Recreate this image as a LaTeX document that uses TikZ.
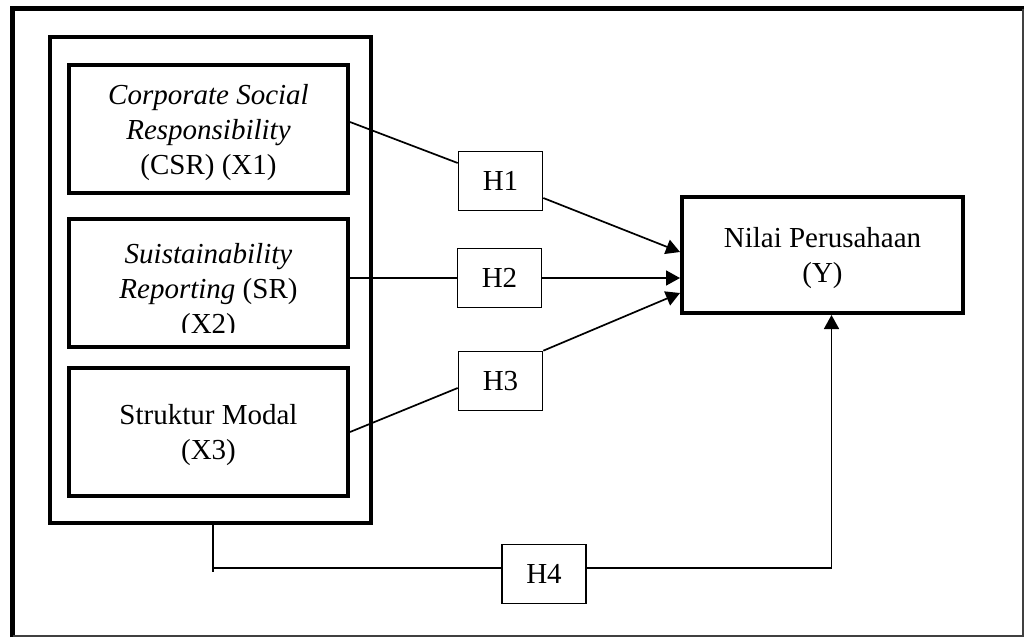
\documentclass[tikz,border=0pt]{standalone}
\usepackage{fontspec}
\setmainfont{Liberation Serif}
\usetikzlibrary{arrows.meta}
\tikzset{
  varbox/.style={draw,line width=4pt,inner sep=0pt,align=center,text depth=-4pt,
    minimum width=279pt,minimum height=128pt},
  hypbox/.style={draw,line width=1.6pt,inner sep=0pt,
    minimum width=84pt,minimum height=59pt},
  link/.style={line width=1.7pt},
  arr/.style={link,-{Triangle[length=14pt,width=15pt]}}
}
\begin{document}
\begin{tikzpicture}[x=1pt,y=-1pt,font=\fontsize{29}{35}\selectfont]
   \useasboundingbox (0,0) rectangle (1024,637);
   % frame of the page
   \draw[line width=5pt] (12.5,637) -- (12.5,8.5) -- (1024,8.5);
   \draw[line width=2pt,black!75] (1022.5,8.5) -- (1022.5,636) -- (12.5,636);
   % independent variables
   \node[draw,line width=4pt,minimum width=321pt,minimum height=486pt] (grp) at (210.5,280) {};
   \node[varbox] (csr) at (208.5,129)
     {\textit{Corporate Social}\\\textit{Responsibility}\\(CSR) (X1)};
   \node[varbox] (sr) at (208.5,283) {};
   \begin{scope}
     \clip (69,225) rectangle (348,332);
     \node[align=center] (srtext) at (208.5,292)
       {\textit{Suistainability}\\\textit{Reporting} (SR)\\(X2)};
   \end{scope}
   \node[varbox] (sm) at (208.5,432) {Struktur Modal\\(X3)};
   % dependent variable
   \node[varbox,minimum width=281pt,minimum height=116pt] (nilai) at (822.5,255)
     {Nilai Perusahaan\\(Y)};
   % hypotheses
   \foreach \n/\x/\y in {1/500.5/181, 2/499.5/278, 3/500.5/381, 4/544/574}
     \node[hypbox] (h\n) at (\x,\y) {H\n};
   \draw[link] ([yshift=7pt]csr.east) -- ([yshift=18pt]h1.west);
   \draw[arr] ([yshift=-17pt]h1.east) -- ([yshift=3pt]nilai.west);
   \draw[link] ([yshift=5pt]sr.east) -- (h2.west);
   \draw[arr] (h2.east) -- ([yshift=-23pt]nilai.west);
   \draw[link] (sm.east) -- ([yshift=-7pt]h3.west);
   \draw[arr] (h3.north east) -- ([yshift=-38pt]nilai.west);
   \draw[link] ([xshift=2.5pt]grp.south) -- ++(0,47) ([xshift=2.5pt]grp.south) |- ([yshift=6pt]h4.west);
   \draw[arr] ([yshift=6pt]h4.east) -| ([xshift=9pt]nilai.south);
\end{tikzpicture}
\end{document}
